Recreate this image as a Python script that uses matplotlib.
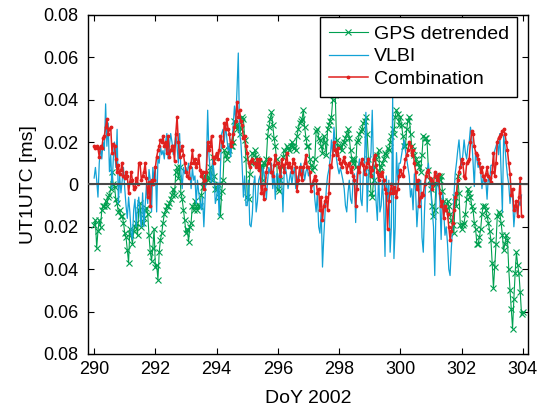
import numpy as np
import matplotlib
matplotlib.use("Agg")
import matplotlib.pyplot as plt

plt.rcParams['font.family'] = ['Liberation Sans', 'DejaVu Sans']

# hourly series, values in 1e-3 ms, first sample at DoY 290.0
gps_days = [
    [-19, -17, -30, -22, -17, -20, -12, -10, -10, -8, -10, -6, -5, -2, 6, 0, -1, -7, -9, -13, -12, -15, -15, -18],
    [-23, -25, -31, -37, -21, -24, -28, -22, -20, -18, -24, -12, -9, -20, -18, -16, -12, -11, -14, -24, -32, -36, -30, -21],
    [-39, -38, -45, -32, -26, -23, -18, -14, -12, -10, -10, -9, -7, -5, -2, -5, 6, 8, 3, 8, -4, -7, -12, -17],
    [-23, -21, -27, -20, -18, -10, -12, -8, -10, -12, -10, -10, -5, -1, 2, 4, 5, 2, 3, 8, 2, 13, 4, -2],
    [-2, 0, -6, -15, -3, 2, 16, 14, 12, 15, 16, 18, 18, 20, 30, 28, 26, 28, 24, 26, 32, 31, 21, 12],
    [-6, -7, 5, 10, 15, 14, 16, 13, 12, 10, 8, 9, 2, 10, 9, 12, 23, 27, 31, 34, 28, 22, 18, 12],
    [-2, -3, 2, 8, 13, 16, 15, 18, 17, 16, 18, 20, 18, 17, 16, 23, 26, 29, 30, 31, 35, 27, 22, 18],
    [18, 12, 9, 7, 8, 12, 25, 26, 22, 21, 18, 15, 23, 20, 14, 26, 28, 30, 32, 40, 45, 42, 21, 18],
    [17, 18, 16, 19, 20, 22, 24, 26, 22, 16, 12, 10, 12, 8, 20, 21, 24, 25, 26, 29, 30, 32, 24, 12],
    [6, -4, -6, 2, 8, 12, 14, 16, 6, 8, 10, 12, 15, 14, 17, 16, 20, 23, 26, 24, 32, 35, 33, 28],
    [32, 28, 23, 18, 18, 26, 30, 32, 24, 18, 16, 14, 12, 10, 10, 8, 6, 14, 23, 22, 22, 20, 7, 2],
    [-2, -10, -15, -12, 0, 2, 4, 2, 4, -3, -8, -10, -12, -8, -10, -14, -17, -19, -23, -6, -10, 4, -4, -19],
    [-21, -19, -18, -14, -7, -2, -4, -6, -10, -12, -18, -21, -28, -28, -25, -21, -14, -10, -10, -12, -15, -18, -22, -26],
    [-37, -49, -39, -28, -15, -13, -14, -18, -24, -31, -28, -24, -26, -40, -50, -59, -68, -54, -42, -32, -38, -42, -51, -61],
    [-60],
]

vlbi_days = [
    [3, 8, 2, -6, 10, 18, 12, 20, 16, 38, 18, 29, 6, 14, -2, 12, 20, 8, 26, -9, 4, -4, 2, 8],
    [-2, -10, -16, -6, -13, -23, -26, -12, -7, -20, -10, -6, -15, -20, -4, -20, -10, 0, -9, 7, 2, -13, 8, 2],
    [8, -13, 12, 10, 18, 14, 16, 12, 20, 24, 12, 18, 24, 20, 14, 18, 24, 18, 10, 24, 6, -2, 8, 5],
    [8, 5, 10, 6, -2, 8, 2, 4, -9, 2, -4, -8, -12, -6, -20, -6, 10, 35, 14, 6, 0, 12, 4, -9],
    [-6, 1, -15, 8, 24, 26, 20, 28, 22, 16, 19, 13, 20, 28, 37, 30, 45, 62, 24, 20, 9, -6, 4, -10],
    [-10, 2, -19, -20, -14, 0, 4, -13, -8, 2, 4, -2, 8, 6, 2, -7, 2, 8, 5, 10, -2, 6, -7, 5],
    [5, -2, 8, 2, -13, 6, 8, 4, -2, 2, 6, 0, 5, 8, -2, 4, 0, 6, 10, 4, 8, 2, 6, 8],
    [4, 6, -2, 0, 2, -7, -13, -4, -20, -23, -12, -39, -25, -13, -2, 4, 7, 12, 21, 14, 27, 19, 12, 8],
    [5, 8, 5, 2, -2, -10, -13, -4, 2, -7, -9, 2, 5, -18, 5, 8, 12, -7, -10, 5, 12, 34, -13, 4],
    [10, 15, 35, 8, 2, -8, -17, 5, -13, -10, 2, -10, -34, 4, -8, 2, -32, -20, 41, -35, -20, 15, 2, 10],
    [10, 14, 18, 21, 16, 12, 8, 4, -6, -2, -12, 5, -3, -20, -10, 1, 2, -25, -32, -12, 2, 6, 10, 3],
    [-4, -12, -20, -43, -8, 5, 0, -8, -26, -4, -12, -24, -20, -28, -40, -43, -30, -20, -6, 5, 10, 16, 21, 12],
    [9, 14, 21, 15, 12, 18, 20, 27, 22, 10, -1, 16, 12, 8, 10, 6, -2, 4, 0, 2, -7, 4, 1, 9],
    [9, 12, 16, 18, 20, 14, 24, 6, -13, 23, 18, 10, 4, 0, -9, -2, -6, -20, -12, -10, -15, -8, -10, -5],
]

comb_days = [
    [18, 17, 18, 17, 13, 18, 17, 22, 23, 27, 31, 24, 26, 27, 15, 19, 18, 12, 6, 9, 5, 7, 10, 4],
    [3, 6, 4, -4, 1, 6, 2, -2, -1, 3, 0, 10, 10, 2, 4, 6, 10, 3, -6, 1, -10, 2, 0, 2],
    [8, 13, 16, 18, 21, 20, 23, 18, 20, 15, 23, 13, 16, 18, 18, 11, 24, 32, 20, 13, 16, 18, 14, 10],
    [6, 4, 3, 8, 10, 16, 10, 12, 8, 10, 14, 7, 4, 6, -2, 2, 6, 20, 16, 18, 23, 13, 10, 13],
    [15, 12, 16, 23, 20, 18, 29, 26, 31, 26, 24, 18, 20, 24, 27, 30, 39, 32, 35, 30, 28, 22, 23, 18],
    [15, 10, 8, 11, 12, 10, 10, 8, 12, 7, 12, -4, 0, -7, -2, 6, 10, 12, 12, 6, 4, 9, 14, 10],
    [10, 8, 4, 12, 9, 6, 10, 15, 8, 10, 8, 6, 12, 10, 8, -3, 2, 8, 5, 2, 8, 10, 14, 8],
    [8, 6, -3, 0, 2, 4, 2, -4, -2, -12, -6, -17, -10, -8, -6, -12, -4, 9, 8, 14, 20, 16, 14, 17],
    [12, 10, 8, 11, 13, 10, 6, 9, 10, 6, 8, 4, 2, -10, -2, 8, 6, 10, 12, 9, 5, 8, 10, 12],
    [8, 4, 7, 12, 14, 9, 6, 2, 5, 4, 6, 2, -2, -4, -21, -8, -4, 0, -4, -1, -3, -6, -2, 4],
    [7, 5, 4, 8, 12, 14, 16, 20, 18, 14, 16, 10, 6, -2, 2, -10, -6, -4, -5, 0, 4, 6, 7, 3],
    [2, -2, 0, 6, 4, 2, 5, -4, -10, -8, -16, -10, -12, -14, -20, -26, -22, -18, -12, -6, -4, 2, 6, 8],
    [12, 10, 4, 3, 10, 11, 12, 20, 25, 24, 18, 15, 14, 12, 10, 6, 8, 4, 2, 5, 8, 4, 3, 1],
    [6, 15, 4, 10, 20, 22, 23, 24, 25, 26, 24, 20, 16, 10, 5, -5, -2, -12, -10, -8, -15, -6, 3, -15],
]

xticks = [290, 292, 294, 296, 298, 300, 302, 304]
yticks = [-0.08, -0.06, -0.04, -0.02, 0, 0.02, 0.04, 0.06, 0.08]
ytick_labels = ['0.08', '0.06', '0.04', '0.02', '0', '0.02', '0.04', '0.06', '0.08']

gps = np.concatenate(gps_days) / 1000.0
vlbi = np.concatenate(vlbi_days) / 1000.0
comb = np.concatenate(comb_days) / 1000.0
t_gps = 290 + np.arange(len(gps)) / 24.0
t_vlbi = 290 + np.arange(len(vlbi)) / 24.0
t_comb = 290 + np.arange(len(comb)) / 24.0

fig = plt.figure(figsize=(5.38, 4.13), dpi=100)
ax = fig.add_axes([0.1636, 0.143, 0.8178, 0.821])

ax.plot(t_gps, gps, color='#00a050', lw=0.8, marker='x', ms=4.5, mew=0.8,
        label='GPS detrended')
ax.plot(t_vlbi, vlbi, color='#12a2d6', lw=0.9, label='VLBI')
ax.plot(t_comb, comb, color='#e0201e', lw=1.1, marker='.', ms=3.5,
        label='Combination')
ax.axhline(0, color='#484848', lw=1.5, zorder=5)

ax.set_xlim(289.8, 304.17)
ax.set_ylim(-0.08, 0.08)
ax.set_xticks(xticks)
ax.set_yticks(yticks)
ax.set_yticklabels(ytick_labels)
ax.tick_params(direction='in', top=True, right=True, labelsize=13, length=4)
ax.tick_params(axis='y', pad=7)
ax.tick_params(axis='x', pad=5)
for s in ax.spines.values():
    s.set_linewidth(1.0)

ax.set_xlabel('DoY 2002', fontsize=14, labelpad=9)
ax.set_ylabel('UT1UTC [ms]', fontsize=14, labelpad=4)

leg = ax.legend(loc='upper right', bbox_to_anchor=(0.976, 0.995), fontsize=14,
                fancybox=False, framealpha=1, edgecolor='black',
                handlelength=2.0, borderpad=0.45, labelspacing=0.25,
                handletextpad=0.3, borderaxespad=0)
leg.get_frame().set_linewidth(1.0)

fig.savefig('out.png', dpi=100)
